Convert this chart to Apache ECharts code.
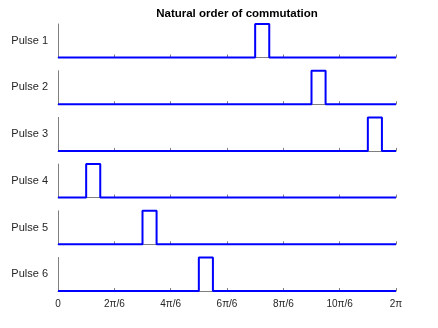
<!DOCTYPE html>
<html>
<head>
<meta charset="utf-8">
<script src="https://cdn.jsdelivr.net/npm/echarts@6/dist/echarts.min.js"></script>
<style>
  html, body { margin: 0; padding: 0; background: #fff; }
  #chart { width: 438px; height: 328px; }
</style>
</head>
<body>
<div id="chart"></div>
<script>
// Firing pulses of a six-pulse bridge, angles in degrees over one period
const pulseNames = ['Pulse 1', 'Pulse 2', 'Pulse 3', 'Pulse 4', 'Pulse 5', 'Pulse 6'];
const pulseStart = [210, 270, 330, 30, 90, 150];
const pulseEnd = [225, 285, 345, 45, 105, 165];
const periodEnd = 360;
const tickLabels = ['0', '2π/6', '4π/6', '6π/6', '8π/6', '10π/6', '2π'];

const gridLeft = 58, gridRight = 42, firstTop = 24, pitch = 46.7, plotH = 33.5;
const axisGrey = '#7f7f7f';
const textColor = '#262626';
const fontFamily = 'Liberation Sans, Arial, sans-serif';

const grids = [], xAxes = [], yAxes = [], series = [];
pulseNames.forEach((name, i) => {
  const last = i === pulseNames.length - 1;
  grids.push({ left: gridLeft, right: gridRight, top: firstTop + i * pitch, height: plotH });
  xAxes.push({
    type: 'value', gridIndex: i, min: 0, max: periodEnd, interval: 60,
    axisLine: { show: true, onZero: false, lineStyle: { color: axisGrey, width: 1 } },
    axisTick: { show: true, inside: true, length: 3, lineStyle: { color: axisGrey } },
    splitLine: { show: false },
    axisLabel: {
      show: last, color: textColor, fontSize: 10, fontFamily: fontFamily, margin: 8,
      formatter: v => tickLabels[Math.round(v / 60)]
    }
  });
  yAxes.push({
    type: 'value', gridIndex: i, min: 0, max: 1,
    name: name, nameLocation: 'middle', nameRotate: 0, nameGap: 10,
    nameTextStyle: { color: textColor, fontSize: 11, fontFamily: fontFamily, align: 'right', verticalAlign: 'middle' },
    axisLine: { show: true, lineStyle: { color: axisGrey, width: 1 } },
    axisTick: { show: false }, axisLabel: { show: false }, splitLine: { show: false }
  });
  series.push({
    type: 'line', xAxisIndex: i, yAxisIndex: i, symbol: 'none', clip: false, animation: false,
    lineStyle: { color: '#0000ff', width: 2 },
    data: [[0, 0], [pulseStart[i], 0], [pulseStart[i], 1], [pulseEnd[i], 1], [pulseEnd[i], 0], [periodEnd, 0]]
  });
});

const chart = echarts.init(document.getElementById('chart'), null, { renderer: 'canvas' });
chart.setOption({
  backgroundColor: '#ffffff',
  animation: false,
  graphic: [{
    type: 'text', x: 237, y: 13.5,
    style: {
      text: 'Natural order of commutation', align: 'center', verticalAlign: 'middle',
      fill: '#000', fontSize: 11.5, fontWeight: 'bold', fontFamily: fontFamily
    }
  }],
  grid: grids, xAxis: xAxes, yAxis: yAxes, series: series
});
</script>
</body>
</html>
